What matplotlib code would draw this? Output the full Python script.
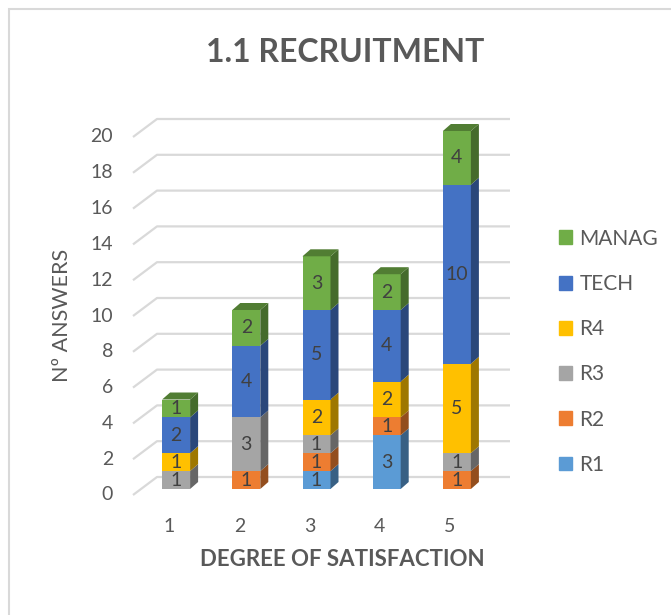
import matplotlib.pyplot as plt
from matplotlib.patches import Polygon, Patch, Rectangle
import matplotlib.colors as mcolors
import numpy as np

plt.rcParams['font.family'] = ['Lato', 'DejaVu Sans']

categories = [1, 2, 3, 4, 5]
series = ['R1', 'R2', 'R3', 'R4', 'TECH', 'MANAG']
values = {
    'R1':    [0, 0, 1, 3, 0],
    'R2':    [0, 1, 1, 1, 1],
    'R3':    [1, 3, 1, 0, 1],
    'R4':    [1, 0, 2, 2, 5],
    'TECH':  [2, 4, 5, 4, 10],
    'MANAG': [1, 2, 3, 2, 4],
}
colors = {'R1': '#5B9BD5', 'R2': '#ED7D31', 'R3': '#A5A5A5',
          'R4': '#FFC000', 'TECH': '#4472C4', 'MANAG': '#70AD47'}
yticks = list(range(0, 21, 2))
ymax = 20

W, H = 671, 615
fig = plt.figure(figsize=(W / 100, H / 100), dpi=100)

# axes set so the bars' front plane maps to pixels
L, R, B0, T0 = 141, 492, 489, 131
ax = fig.add_axes([L / W, (H - B0) / H, (R - L) / W, (B0 - T0) / H])
ax.set_xlim(0.5, 5.5)
ax.set_ylim(0, ymax)
ax.axis('off')
PX = 5 / (R - L)        # data units per pixel
PY = ymax / (B0 - T0)

def shade(c, f):
    r, g, b = mcolors.to_rgb(c)
    return (r * f, g * f, b * f)

grid_c = '#D9D9D9'
txt_c = '#595959'

# back wall and left floor gridlines
x_front = 0.5 + (133 - L) * PX
x_wall = 0.5 + (157 - L) * PX
x_end = 0.5 + (510 - L) * PX
for v in yticks:
    ax.plot([x_front, x_wall, x_end], [v - 6 * PY, v + 12 * PY, v + 12 * PY],
            color=grid_c, lw=1.6, zorder=1, clip_on=False, solid_capstyle='butt')
    ax.text(0.5 + (113 - L) * PX, v - 6 * PY, str(v), ha='right', va='center',
            fontsize=14, color=txt_c, clip_on=False)

for c in categories:
    ax.text(c - 7 * PX, -38 * PY, str(c), ha='center', va='center',
            fontsize=14, color=txt_c, clip_on=False)

# 3D-looking stacked bars
w = 28 * PX
dx, dy = 8 * PX, 7 * PY
bottom = np.zeros(len(categories))
tops = np.minimum(np.sum([values[s] for s in series], axis=0), ymax)
for s in series:
    vals = np.array(values[s], dtype=float)
    b = np.minimum(bottom, ymax)
    t = np.minimum(bottom + vals, ymax)
    h = t - b
    ax.bar(categories, h, bottom=b, width=w, color=colors[s], zorder=3,
           linewidth=0)
    for i, c in enumerate(categories):
        if h[i] <= 0:
            continue
        xr = c + w / 2
        side = Polygon([(xr, b[i]), (xr + dx, b[i] + dy), (xr + dx, t[i] + dy),
                        (xr, t[i])], closed=True, fc=shade(colors[s], 0.62),
                       ec='none', zorder=3, clip_on=False)
        ax.add_patch(side)
        if t[i] >= tops[i]:
            xl = c - w / 2
            top = Polygon([(xl, t[i]), (xl + dx, t[i] + dy), (xr + dx, t[i] + dy),
                           (xr, t[i])], closed=True, fc=shade(colors[s], 0.72),
                          ec='none', zorder=3, clip_on=False)
            ax.add_patch(top)
        ax.text(c, (b[i] + t[i]) / 2, str(int(vals[i])), ha='center',
                va='center', fontsize=14, color='#404040', zorder=5)
    bottom = bottom + vals

# titles
fig.text(345 / W, 1 - 53 / H, '1.1 RECRUITMENT', ha='center', va='center',
         fontsize=23, fontweight='bold', color=txt_c)
fig.text(342 / W, 1 - 560 / H, 'DEGREE OF SATISFACTION', ha='center',
         va='center', fontsize=16, fontweight='bold', color=txt_c)
fig.text(62 / W, 1 - 315 / H, 'Nº ANSWERS', ha='center', va='center',
         rotation=90, fontsize=15.5, color=txt_c)

# legend
handles = [Patch(color=colors[s], label=s) for s in reversed(series)]
fig.legend(handles=handles, loc='upper left',
           bbox_to_anchor=(540 / W, 1 - 210 / H), frameon=False,
           fontsize=15, labelcolor=txt_c, labelspacing=1.21,
           handlelength=0.65, handleheight=0.65, handletextpad=0.35)

# chart border (right/bottom edges fall outside the picture)
fig.patches.append(Rectangle((9 / W, -0.1), 1.2, 1 - 9 / H + 0.1,
                             transform=fig.transFigure, fill=False,
                             ec=grid_c, lw=1.5))

fig.savefig('out.png', dpi=100)
